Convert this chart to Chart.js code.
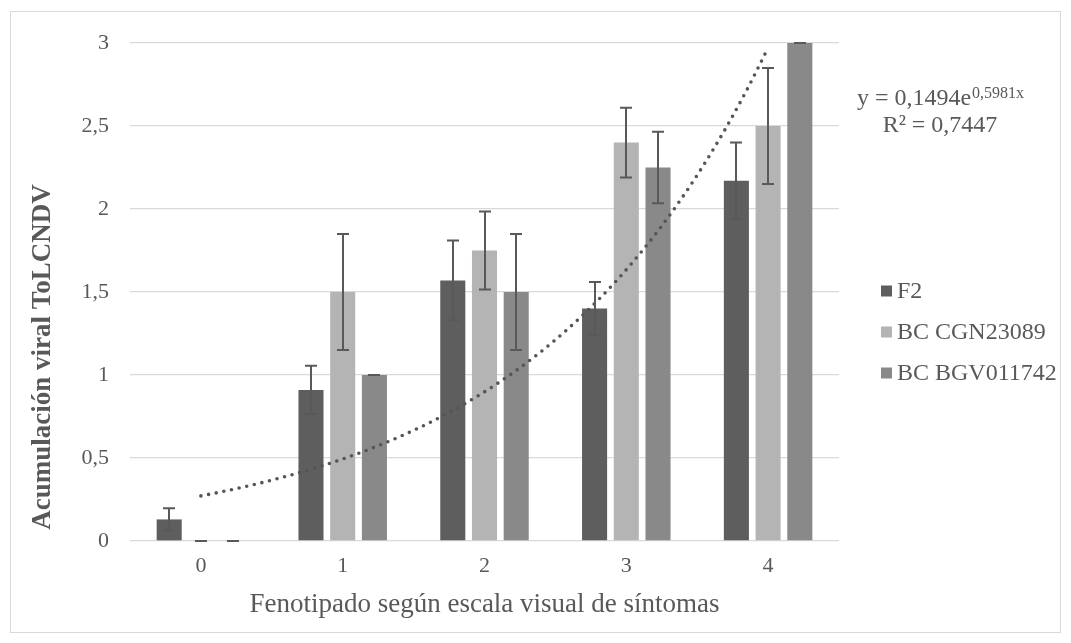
<!DOCTYPE html>
<html lang="es">
<head>
<meta charset="utf-8">
<title>Acumulación viral ToLCNDV</title>
<script src="https://cdn.jsdelivr.net/npm/chart.js@4.4.1/dist/chart.umd.min.js"></script>
<style>
  html, body { margin: 0; padding: 0; background: #ffffff; }
  #wrap { width: 1071px; height: 643px; }
</style>
</head>
<body>
<div id="wrap"><canvas id="c" width="1071" height="643"></canvas></div>
<script>
// Escala visual de síntomas (eje X)
const categories = ['0', '1', '2', '3', '4'];

// Medias de acumulación viral por grupo
const seriesNames = ['F2', 'BC CGN23089', 'BC BGV011742'];
const f2Values = [0.13, 0.91, 1.57, 1.40, 2.17];
const cgnValues = [0, 1.5, 1.75, 2.4, 2.5];
const bgvValues = [0, 1.0, 1.5, 2.25, 3.0];

// Error estándar (semiamplitud de cada barra de error)
const f2Errors = [0.067, 0.145, 0.24, 0.16, 0.23];
const cgnErrors = [0, 0.35, 0.235, 0.21, 0.35];
const bgvErrors = [0, 0, 0.35, 0.215, 0];

// Etiquetas del eje Y
const yTickLabels = ['0', '0,5', '1', '1,5', '2', '2,5', '3'];

// Línea de tendencia exponencial (F2): y = a·e^(b·x), x = 1..5
const trendA = 0.1494;
const trendB = 0.5981;
const trendEquation = 'y = 0,1494e';
const trendExponent = '0,5981x';
const trendR2 = 'R² = 0,7447';

const axisTitleX = 'Fenotipado según escala visual de síntomas';
const axisTitleY = 'Acumulación viral ToLCNDV';

const colors = ['#5e5e5e', '#b4b4b4', '#898989'];
const textColor = '#595959';
const serif = "'Liberation Serif', 'Times New Roman', serif";

// Curva de tendencia sobre la escala del eje X (posición = x - 1)
const trendPoints = [];
for (let i = 0; i <= 80; i++) {
  const x = 1 + i * 0.05;
  trendPoints.push({ x: x - 1, y: trendA * Math.exp(trendB * x) });
}

const errorSets = [f2Errors, cgnErrors, bgvErrors];

// Barras de error, leyenda, ecuación y título vertical
const decorations = {
  id: 'decorations',
  beforeDraw(chart) {
    const ctx = chart.ctx;
    ctx.save();
    ctx.fillStyle = '#ffffff';
    ctx.fillRect(0, 0, chart.width, chart.height);
    ctx.strokeStyle = '#d9d9d9';
    ctx.lineWidth = 1;
    ctx.strokeRect(10.5, 11.5, 1050, 621);
    ctx.restore();
  },
  afterDatasetsDraw(chart) {
    const ctx = chart.ctx;
    const y = chart.scales.y;
    ctx.save();
    ctx.strokeStyle = '#595959';
    ctx.lineWidth = 2;
    for (let d = 0; d < 3; d++) {
      const meta = chart.getDatasetMeta(d);
      const vals = [f2Values, cgnValues, bgvValues][d];
      meta.data.forEach((bar, i) => {
        const v = vals[i];
        const e = errorSets[d][i];
        const x = Math.round(bar.x);
        const yTop = y.getPixelForValue(v + e);
        const yBot = y.getPixelForValue(v - e);
        ctx.beginPath();
        ctx.moveTo(x, yTop);
        ctx.lineTo(x, yBot);
        ctx.moveTo(x - 6, yTop);
        ctx.lineTo(x + 6, yTop);
        ctx.moveTo(x - 6, yBot);
        ctx.lineTo(x + 6, yBot);
        ctx.stroke();
      });
    }
    ctx.restore();
  },
  afterDraw(chart) {
    const ctx = chart.ctx;
    ctx.save();
    // Leyenda
    const legendY = [291, 332, 373];
    ctx.font = '24px ' + serif;
    ctx.textBaseline = 'middle';
    ctx.textAlign = 'left';
    seriesNames.forEach((name, i) => {
      ctx.fillStyle = colors[i];
      ctx.fillRect(881, legendY[i] - 5.5, 11, 11);
      ctx.fillStyle = textColor;
      ctx.fillText(name, 897, legendY[i] + 1);
    });
    // Ecuación de la tendencia
    ctx.textBaseline = 'alphabetic';
    ctx.font = '24px ' + serif;
    const w1 = ctx.measureText(trendEquation).width;
    ctx.font = '16px ' + serif;
    const w2 = ctx.measureText(trendExponent).width;
    const cx = 940;
    const x0 = cx - (w1 + w2) / 2;
    ctx.font = '24px ' + serif;
    ctx.fillText(trendEquation, x0, 105);
    ctx.font = '16px ' + serif;
    ctx.fillText(trendExponent, x0 + w1 + 1, 98);
    ctx.font = '24px ' + serif;
    ctx.textAlign = 'center';
    ctx.fillText(trendR2, cx, 132);
    // Título del eje Y
    ctx.translate(50, 357);
    ctx.rotate(-Math.PI / 2);
    ctx.font = 'bold 27px ' + serif;
    ctx.textAlign = 'center';
    ctx.fillText(axisTitleY, 0, 0);
    ctx.restore();
  }
};

const barDatasets = [f2Values, cgnValues, bgvValues].map((vals, i) => ({
  type: 'bar',
  label: seriesNames[i],
  data: vals.map((v, k) => ({ x: k, y: v })),
  backgroundColor: colors[i],
  borderWidth: 0,
  categoryPercentage: 0.671,
  barPercentage: 0.79,
  order: 2
}));

new Chart(document.getElementById('c'), {
  type: 'bar',
  data: {
    datasets: [
      ...barDatasets,
      {
        type: 'line',
        label: 'Exponencial (F2)',
        data: trendPoints,
        borderColor: '#555555',
        borderWidth: 3.6,
        borderDash: [0, 7.8],
        borderCapStyle: 'round',
        pointRadius: 0,
        tension: 0,
        fill: false,
        order: 0
      }
    ]
  },
  options: {
    responsive: false,
    devicePixelRatio: 1,
    animation: false,
    layout: { padding: { left: 0, top: 43, right: 232, bottom: 0 } },
    plugins: {
      legend: { display: false },
      tooltip: { enabled: false }
    },
    scales: {
      x: {
        type: 'linear',
        min: -0.5,
        max: 4.5,
        offset: false,
        grid: { display: false, drawTicks: false },
        border: { display: false },
        afterBuildTicks(s) { s.ticks = categories.map((c, i) => ({ value: i })); },
        ticks: {
          autoSkip: false,
          maxRotation: 0,
          color: textColor,
          font: { family: serif, size: 22 },
          padding: 12,
          callback: (v) => categories[v]
        },
        title: {
          display: true,
          text: axisTitleX,
          color: textColor,
          font: { family: serif, size: 27 },
          padding: { top: 0, bottom: 22 }
        },
        afterFit(s) { s.height = 102; }
      },
      y: {
        min: 0,
        max: 3,
        grid: { color: '#d9d9d9', lineWidth: 1.3, drawTicks: false },
        border: { display: false },
        ticks: {
          stepSize: 0.5,
          color: textColor,
          font: { family: serif, size: 22 },
          padding: 21,
          callback: (v, i) => yTickLabels[i]
        },
        afterFit(s) { s.width = 130; }
      }
    }
  },
  plugins: [decorations]
});
</script>
</body>
</html>
